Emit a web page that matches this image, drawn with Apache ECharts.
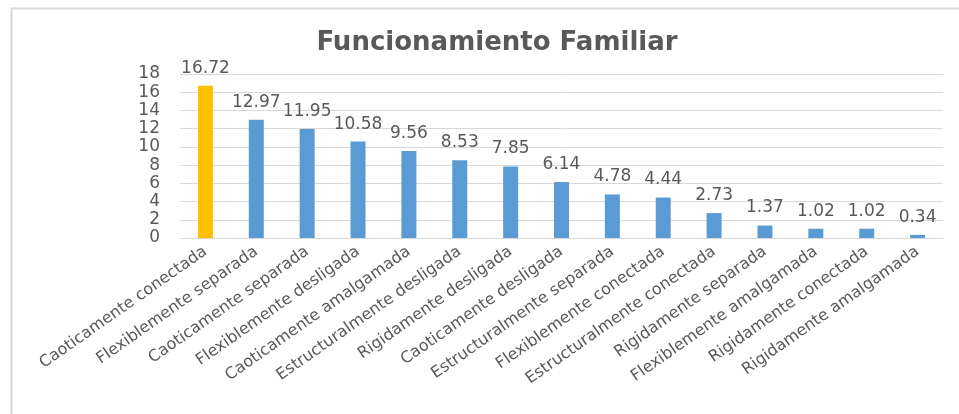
<!DOCTYPE html>
<html>
<head>
<meta charset="utf-8">
<script src="https://cdn.jsdelivr.net/npm/echarts@6/dist/echarts.min.js"></script>
<style>
  html, body { margin: 0; padding: 0; background: #fff; }
  #chart { width: 959px; height: 414px; }
</style>
</head>
<body>
<div id="chart"></div>
<script>
// data
const categories = [
  'Caoticamente conectada',
  'Flexiblemente separada',
  'Caoticamente separada',
  'Flexiblemente desligada',
  'Caoticamente amalgamada',
  'Estructuralmente desligada',
  'Rigidamente desligada',
  'Caoticamente desligada',
  'Estructuralmente separada',
  'Flexiblemente conectada',
  'Estructuralmente conectada',
  'Rigidamente separada',
  'Flexiblemente amalgamada',
  'Rigidamente conectada',
  'Rigidamente amalgamada',
];
const values = [16.72, 12.97, 11.95, 10.58, 9.56, 8.53, 7.85, 6.14, 4.78, 4.44, 2.73, 1.37, 1.02, 1.02, 0.34];
const highlighted = ['Caoticamente conectada'];

const textColor = '#595959';
const blue = '#5B9BD5';
const gold = '#FFC000';

const chart = echarts.init(document.getElementById('chart'), null, { renderer: 'canvas' });

const barData = values.map((v, i) => ({
  value: v,
  itemStyle: { color: highlighted.includes(categories[i]) ? gold : blue },
}));

const option = {
  animation: false,
  backgroundColor: '#fff',
  title: {
    text: 'Funcionamiento Familiar',
    left: 492,
    top: 25,
    textAlign: 'center',
    textStyle: {
      fontFamily: 'DejaVu Sans',
      fontWeight: 'bold',
      fontSize: 26,
      color: textColor,
    },
  },
  // chart frame (only top and left edges show in the picture)
  graphic: [
    {
      type: 'polyline',
      shape: { points: [[11.5, 414], [11.5, 8.5], [959, 8.5]] },
      style: { stroke: '#d9d9d9', lineWidth: 2, fill: null },
      silent: true,
    },
  ],
  grid: {
    left: 180,
    right: 16,
    top: 74,
    bottom: 176,
  },
  xAxis: {
    type: 'category',
    data: categories,
    axisLine: { lineStyle: { color: '#d9d9d9', width: 1 } },
    axisTick: { show: false },
    axisLabel: {
      interval: 0,
      rotate: 35,
      margin: 12,
      fontFamily: 'DejaVu Sans',
      fontSize: 16,
      color: textColor,
    },
  },
  yAxis: {
    type: 'value',
    min: 0,
    max: 18,
    interval: 2,
    axisLine: { show: false },
    axisTick: { show: false },
    splitLine: { lineStyle: { color: '#d9d9d9', width: 1 } },
    axisLabel: {
      margin: 20,
      fontFamily: 'DejaVu Sans',
      fontSize: 17,
      color: textColor,
    },
  },
  series: [
    {
      type: 'bar',
      data: barData,
      barWidth: 15,
      label: {
        show: true,
        position: 'top',
        distance: 9,
        fontFamily: 'DejaVu Sans',
        fontSize: 17,
        color: textColor,
        formatter: p => p.value.toFixed(2),
      },
    },
  ],
};

chart.setOption(option);
</script>
</body>
</html>
